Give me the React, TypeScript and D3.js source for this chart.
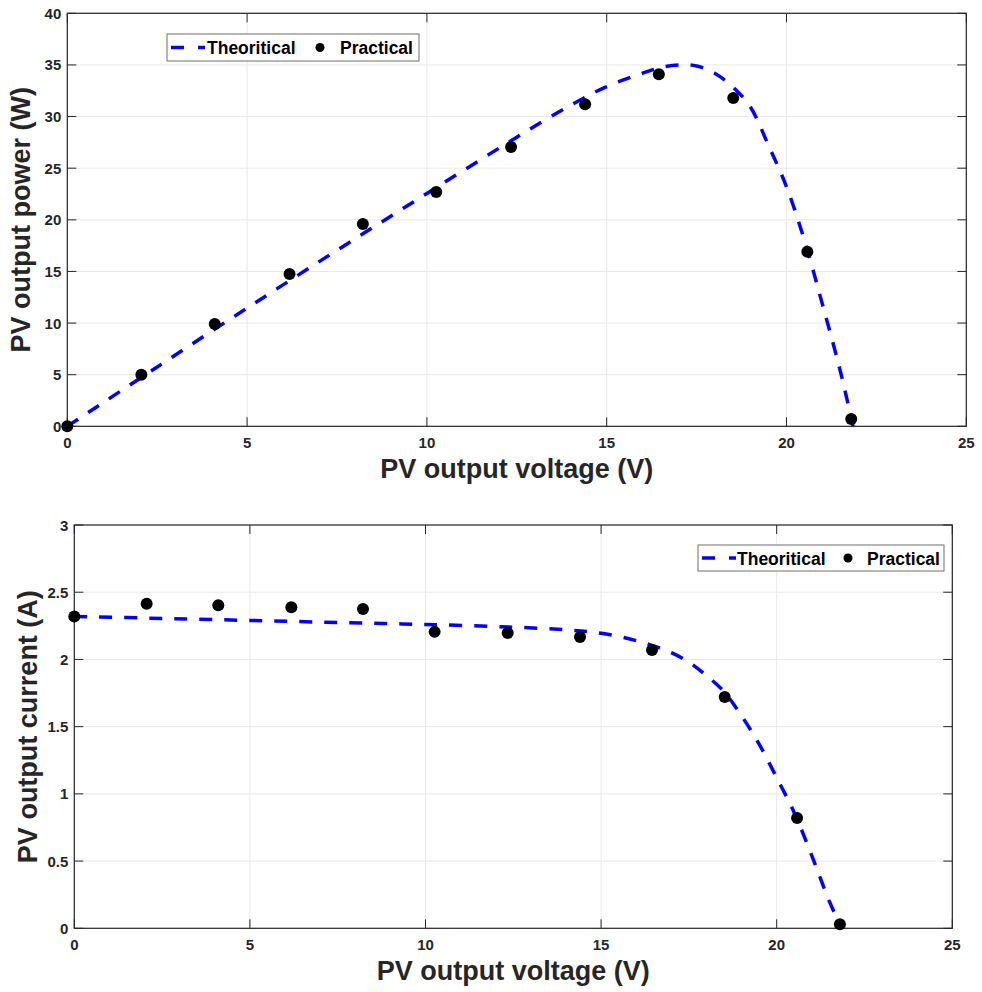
import React from 'react';
import * as d3 from 'd3';

// values
const voltageTicks = [0, 5, 10, 15, 20, 25];
const powerTicks = [0, 5, 10, 15, 20, 25, 30, 35, 40];
const currentTicks = [0, 0.5, 1, 1.5, 2, 2.5, 3];

const practicalVoltage = [0, 2.06, 4.1, 6.18, 8.22, 10.26, 12.34, 14.4, 16.45, 18.52, 20.58, 21.8];
const practicalPower = [0, 5.0, 9.9, 14.75, 19.6, 22.7, 27.05, 31.2, 34.1, 31.8, 16.9, 0.7];
const practicalCurrent = [2.32, 2.415, 2.403, 2.388, 2.376, 2.205, 2.197, 2.167, 2.07, 1.72, 0.82, 0.03];

const theoryVoltage = [0, 2.5, 5, 7.5, 10, 12.5, 14, 15, 16, 16.5, 17, 17.5, 18, 18.5, 19, 19.5, 20, 20.5, 21, 21.5, 21.85];
const theoryPower = [0, 5.75, 11.45, 17.05, 22.55, 28.0, 31.1, 32.9, 34.2, 34.75, 35.0, 34.9, 34.2, 32.9, 30.9, 27.2, 23.2, 18.0, 11.8, 5.3, 0];
const theoryCurrent = [2.32, 2.305, 2.29, 2.275, 2.26, 2.24, 2.22, 2.195, 2.14, 2.1, 2.05, 1.98, 1.88, 1.76, 1.58, 1.37, 1.12, 0.86, 0.54, 0.2, 0];

const legendLabels = ['Theoritical', 'Practical'];

const FONT = '"Liberation Sans", Arial, Helvetica, sans-serif';
const AXIS = '#262626';
const GRID = '#e8e8e8';

type PanelProps = {
  box: { left: number; right: number; top: number; bottom: number };
  yDomain: [number, number];
  yTicks: number[];
  theoryY: number[];
  practicalY: number[];
  yLabel: string;
  legend: { x: number; y: number; w: number; h: number; textX: number; dotX: number; text2X: number };
};

const Panel = ({ box, yDomain, yTicks, theoryY, practicalY, yLabel, legend }: PanelProps) => {
  const x = d3.scaleLinear().domain([0, 25]).range([box.left, box.right]);
  const y = d3.scaleLinear().domain(yDomain).range([box.bottom, box.top]);
  const tick = 9;

  const theory = theoryVoltage.map((v, i) => [v, theoryY[i]] as [number, number]);
  const line = d3.line<[number, number]>()
    .x(d => x(d[0]))
    .y(d => y(d[1]))
    .curve(d3.curveCatmullRom.alpha(0.5));

  const cy = legend.y + legend.h / 2;

  return (
    <g>
      {/* grid */}
      {voltageTicks.map(t => (
        <line key={'gx' + t} x1={x(t)} x2={x(t)} y1={box.top} y2={box.bottom} stroke={GRID} strokeWidth={1} />
      ))}
      {yTicks.map(t => (
        <line key={'gy' + t} x1={box.left} x2={box.right} y1={y(t)} y2={y(t)} stroke={GRID} strokeWidth={1} />
      ))}

      {/* ticks */}
      {voltageTicks.map(t => (
        <g key={'tx' + t}>
          <line x1={x(t)} x2={x(t)} y1={box.bottom} y2={box.bottom - tick} stroke={AXIS} />
          <line x1={x(t)} x2={x(t)} y1={box.top} y2={box.top + tick} stroke={AXIS} />
          <text x={x(t)} y={box.bottom + 22} textAnchor="middle" fontSize={15} fontWeight="bold" fill={AXIS} fontFamily={FONT}>{t}</text>
        </g>
      ))}
      {yTicks.map(t => (
        <g key={'ty' + t}>
          <line x1={box.left} x2={box.left + tick} y1={y(t)} y2={y(t)} stroke={AXIS} />
          <line x1={box.right} x2={box.right - tick} y1={y(t)} y2={y(t)} stroke={AXIS} />
          <text x={box.left - 6} y={y(t) + 5.5} textAnchor="end" fontSize={15} fontWeight="bold" fill={AXIS} fontFamily={FONT}>{t}</text>
        </g>
      ))}

      <rect x={box.left} y={box.top} width={box.right - box.left} height={box.bottom - box.top} fill="none" stroke={AXIS} strokeWidth={1.2} />

      {/* theoretical curve */}
      <path d={line(theory) || ''} fill="none" stroke="#0000ff" strokeWidth={3.5} strokeDasharray="13 12" />

      {/* practical points */}
      {practicalVoltage.map((v, i) => (
        <circle key={'p' + i} cx={x(v)} cy={y(practicalY[i])} r={6} fill="#000" />
      ))}

      {/* axis labels */}
      <text x={(box.left + box.right) / 2} y={box.bottom + 52} textAnchor="middle" fontSize={27} fontWeight="bold" fill={AXIS} fontFamily={FONT}>
        PV output voltage (V)
      </text>
      <text transform={`translate(${box.left - 37},${(box.top + box.bottom) / 2}) rotate(-90)`} textAnchor="middle" fontSize={27} fontWeight="bold" fill={AXIS} fontFamily={FONT}>
        {yLabel}
      </text>

      {/* legend */}
      <rect x={legend.x} y={legend.y} width={legend.w} height={legend.h} fill="#fff" stroke="#6e6e6e" strokeWidth={1} />
      <line x1={legend.x + 4} x2={legend.x + 38} y1={cy} y2={cy} stroke="#0000ff" strokeWidth={3.5} strokeDasharray="13 14" />
      <text x={legend.textX} y={cy + 6.5} fontSize={17.5} fontWeight="bold" fill="#000" fontFamily={FONT}>{legendLabels[0]}</text>
      <circle cx={legend.dotX} cy={cy} r={4.5} fill="#000" />
      <text x={legend.text2X} y={cy + 6.5} fontSize={17.5} fontWeight="bold" fill="#000" fontFamily={FONT}>{legendLabels[1]}</text>
    </g>
  );
};

export default function App() {
  return (
    <svg width={982} height={992} style={{ position: 'absolute', left: 0, top: 0, background: '#fff' }}>
      <rect width={982} height={992} fill="#fff" />
      <Panel
        box={{ left: 67.3, right: 966.3, top: 13.3, bottom: 426.3 }}
        yDomain={[0, 40]}
        yTicks={powerTicks}
        theoryY={theoryPower}
        practicalY={practicalPower}
        yLabel="PV output power (W)"
        legend={{ x: 167, y: 34, w: 252, h: 27, textX: 207, dotX: 320, text2X: 340 }}
      />
      <Panel
        box={{ left: 74.3, right: 952.3, top: 525, bottom: 928.3 }}
        yDomain={[0, 3]}
        yTicks={currentTicks}
        theoryY={theoryCurrent}
        practicalY={practicalCurrent}
        yLabel="PV output current (A)"
        legend={{ x: 698, y: 545, w: 246, h: 26, textX: 737, dotX: 848, text2X: 867 }}
      />
    </svg>
  );
}
